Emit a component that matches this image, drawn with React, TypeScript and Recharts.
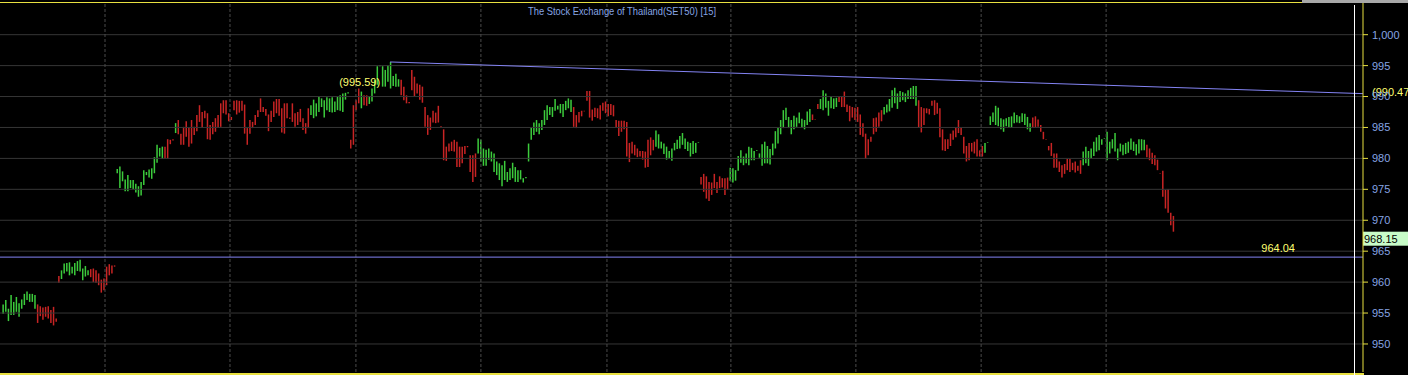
import React from 'react';
import { ComposedChart, Bar, XAxis, YAxis, ReferenceLine, ReferenceDot, Cell } from 'recharts';

// ---- data (15-minute bars, high / low) ----
const highs: number[] = [
  // session A
  956.4, 957.1, 955.7, 957.9, 956.8, 957.6, 956.6, 957.2, 958.1, 958.5, 958.1, 958.1, 957.9, 956.4, 956.1, 955.9, 956.0, 956.1, 955.5, 956.0, 954.1,
  961.0, 961.9, 963.0, 963.1, 963.2, 962.5, 963.1, 963.4, 963.6, 962.2, 962.6, 961.9, 962.1, 962.2, 961.9, 961.4, 960.4, 960.6, 962.5, 962.9, 962.7, 962.7,
  // B
  978.3, 978.7, 977.9, 976.6, 977.3, 976.5, 976.5, 975.9, 975.5, 976.2, 978.1, 977.8, 978.2, 978.4, 980.2, 982.2, 981.7, 981.9,
  981.9, 983.1, 983.0, 983.1, 985.7,
  986.2, 984.0, 985.1, 986.0, 984.9, 986.2, 985.1, 987.0, 988.6, 987.5, 987.7, 987.3, 985.4, 985.9, 986.5, 987.0, 988.9, 989.4, 989.4, 987.3, 986.7, 989.3, 989.4, 989.3, 989.3, 988.7,
  984.9, 986.2, 985.9, 987.0, 987.8, 989.7, 988.3, 988.0, 987.1, 987.7, 989.2, 989.6, 989.6, 988.1, 988.9, 988.9, 986.6, 988.9, 987.3, 987.5, 988.0, 986.5, 985.7, 988.1,
  // C
  988.6, 989.5, 988.9, 990.1, 989.7, 989.4, 989.9, 989.7, 989.9, 989.2, 990.0, 990.2, 990.5, 990.6, 990.7,
  983.0, 988.6, 989.4, 991.3, 990.8, 990.2, 990.2, 990.0, 991.3, 992.7, 994.9, 995.1, 994.9, 994.3, 995.1, 995.59, 993.3, 993.7, 992.8,
  992.7, 991.6, 990.2, 989.1, 994.3, 993.2, 992.1, 991.9, 991.6, 988.3, 987.0, 986.6, 987.7, 987.4, 988.5, 985.2, 984.7, 981.9, 982.4, 982.7, 983.0, 982.7, 981.9, 981.9, 982.0, 982.0, 980.5, 980.5, 980.8,
  983.2, 983.0, 981.6, 981.4, 981.6, 981.1, 980.8, 979.5, 979.2, 978.9, 979.6, 977.8, 978.4, 979.3, 978.6, 978.1, 978.1, 976.8, 977.0, 982.4, 984.9, 985.8, 986.2, 985.7, 986.2, 987.8, 988.6, 988.3,
  // D
  988.3, 989.6, 988.5, 988.8, 988.8, 989.3, 989.7, 989.5,
  988.3, 987.0, 987.5, 987.7, 987.7, 990.9, 990.9, 987.9, 988.2, 988.1, 988.6, 989.0, 989.2, 988.8, 988.8, 988.6, 986.2, 986.1, 986.1, 986.1, 985.9, 982.5, 982.7, 982.2, 981.6, 981.2, 981.2, 981.1, 983.0, 983.4, 983.0,
  984.5, 983.9, 982.7, 982.4, 981.9, 981.2, 981.6, 982.5, 983.0, 983.6, 984.1, 983.2, 982.7, 982.5, 982.8, 982.5, 982.6,
  977.0, 977.5, 977.1, 976.2, 976.1, 977.5, 976.2, 977.1, 976.8, 976.8, 976.9,
  978.5, 978.4, 978.1, 980.4, 981.3,
  // E
  980.3, 980.8, 981.9, 981.7, 981.2, 981.3, 980.8, 982.3, 982.7, 982.0, 981.5, 982.4, 984.4, 984.9, 986.2, 987.8, 988.2, 986.7, 986.2, 986.9, 986.6, 987.4, 986.4, 986.2, 987.6, 988.0,
  987.1, 986.3, 988.8,
  989.6, 991.0, 990.5, 989.3, 990.1, 989.7, 989.8,
  990.1, 990.0, 990.8, 988.7, 988.5, 988.3, 988.2, 988.3, 987.1, 985.7, 984.0, 983.1, 983.5, 986.5, 986.6, 987.4, 987.8,
  988.3, 988.7, 989.6, 991.0, 991.4, 990.5, 990.9, 990.7, 990.5, 991.0, 991.4, 991.7, 991.7,
  989.4, 988.3, 988.1, 988.1, 988.0,
  // F
  989.3, 989.4, 989.0, 988.1, 984.7, 983.1, 983.1, 984.0, 984.5, 985.0, 986.2, 984.9, 983.5, 982.0, 982.5, 982.5, 982.7, 983.1, 981.3, 982.0,
  982.5, 982.6,
  986.8, 987.4, 988.5, 988.2, 986.5, 986.3, 986.5, 986.7, 986.8, 987.4, 987.0, 986.8, 987.3, 987.2, 986.7, 985.7,
  986.6, 986.8, 986.3, 985.4, 984.3, 983.1, 982.0, 982.5, 980.8, 980.8, 979.5, 978.9, 979.1, 979.9, 979.9, 979.3, 979.5, 978.8, 979.7,
  981.1, 981.9, 981.2, 981.6, 982.7, 983.4, 983.8, 983.1, 983.3, 984.3, 982.7, 983.1, 984.1, 981.6,
  // G
  982.4, 982.2, 982.5, 982.7, 983.2, 982.7, 982.3, 983.1, 983.1, 983.0,
  982.2, 981.6, 980.9, 980.5, 979.8, 977.6, 978.0, 974.9, 975.0, 971.2, 970.7,
];

const lows: number[] = [
  // A
  954.9, 955.2, 953.7, 954.7, 954.7, 955.2, 954.4, 955.7, 956.3, 957.1, 956.8, 956.8, 955.7, 953.4, 954.5, 953.9, 954.4, 954.1, 953.4, 953.0, 953.6,
  959.9, 960.5, 961.4, 961.7, 961.1, 961.4, 961.1, 961.8, 961.7, 960.3, 960.9, 961.1, 960.8, 960.0, 959.9, 959.5, 958.3, 958.7, 959.5, 961.1, 961.4, 962.5,
  // B
  977.6, 975.2, 976.3, 974.7, 974.7, 975.2, 975.0, 974.5, 973.8, 974.0, 975.7, 977.3, 976.9, 976.7, 977.6, 979.3, 980.3, 979.9,
  979.9, 979.9, 982.3, 982.9, 984.1,
  983.9, 982.2, 982.2, 983.5, 981.9, 982.4, 983.8, 984.4, 985.9, 984.9, 986.5, 983.1, 983.0, 983.9, 984.3, 984.9, 985.1, 987.3, 987.1, 986.0, 986.2, 987.8, 987.1, 987.4, 987.7, 984.0,
  982.2, 984.0, 984.9, 985.4, 986.7, 987.5, 987.5, 986.9, 984.4, 985.9, 986.7, 987.3, 986.9, 984.2, 984.0, 986.5, 986.4, 985.9, 985.1, 985.4, 985.9, 984.6, 984.0, 984.9,
  // C
  987.0, 986.5, 986.8, 987.5, 988.3, 986.6, 987.8, 987.5, 987.4, 987.5, 987.8, 987.7, 987.5, 989.5, 990.5,
  981.6, 982.2, 987.8, 988.9, 988.1, 988.6, 988.5, 988.8, 989.2, 990.5, 991.9, 994.9, 991.6, 991.6, 992.4, 991.3, 991.7, 991.6, 991.6,
  990.2, 989.4, 988.9, 988.9, 991.0, 990.0, 990.5, 989.5, 989.0, 985.1, 983.8, 984.6, 985.8, 985.7, 985.8, 985.0, 979.7, 979.6, 981.1, 981.2, 981.1, 978.6, 978.6, 979.2, 980.7, 981.8, 977.8, 976.2, 977.0,
  980.8, 979.5, 978.8, 978.8, 979.8, 979.5, 977.8, 977.3, 976.5, 975.5, 976.5, 976.2, 976.5, 976.8, 976.2, 976.2, 976.6, 976.1, 976.8, 979.5, 983.0, 983.8, 984.3, 983.9, 984.6, 985.4, 986.2, 987.0,
  // D
  986.7, 987.7, 987.9, 987.3, 986.7, 987.8, 988.1, 987.5,
  985.1, 984.9, 985.8, 986.8, 987.6, 989.3, 986.6, 986.1, 986.7, 986.5, 986.3, 987.7, 987.3, 986.8, 987.0, 986.8, 985.0, 983.6, 984.3, 984.7, 980.3, 979.4, 980.8, 980.5, 980.2, 980.3, 979.8, 978.5, 978.6, 980.5, 981.3,
  981.9, 981.6, 981.6, 980.7, 979.8, 980.0, 979.6, 981.3, 981.5, 981.6, 982.2, 981.5, 981.2, 980.3, 980.7, 980.9, 982.5,
  975.8, 974.6, 973.5, 973.1, 974.1, 975.2, 974.4, 975.2, 975.3, 974.1, 974.9,
  976.4, 976.1, 976.4, 978.0, 979.3,
  // E
  978.9, 979.2, 978.9, 979.7, 979.7, 981.2, 980.1, 978.8, 979.2, 979.2, 979.0, 980.5, 981.6, 982.4, 983.9, 984.9, 986.2, 984.9, 983.9, 984.7, 985.1, 985.7, 984.9, 984.7, 985.4, 985.9,
  986.2, 986.2, 988.0,
  988.0, 987.8, 988.2, 986.9, 988.1, 988.0, 988.3,
  989.1, 988.3, 988.3, 987.5, 986.0, 986.6, 986.2, 985.9, 983.8, 983.5, 979.9, 980.5, 982.7, 983.9, 984.3, 985.1, 986.0,
  987.1, 987.4, 987.6, 988.2, 988.9, 988.0, 989.1, 989.4, 989.1, 989.6, 989.6, 989.6, 988.5,
  985.0, 984.2, 985.4, 987.3, 987.1,
  // F
  988.5, 987.0, 987.2, 983.4, 981.3, 981.2, 981.5, 982.0, 983.0, 983.4, 984.1, 983.8, 980.8, 979.5, 979.7, 981.1, 980.8, 980.3, 980.3, 980.3,
  980.9, 982.5,
  985.4, 985.9, 985.4, 985.2, 984.7, 984.3, 985.2, 985.0, 985.0, 985.7, 985.8, 985.7, 985.9, 985.4, 984.7, 984.3,
  984.9, 985.0, 985.1, 984.3, 983.1, 983.0, 981.3, 980.4, 978.5, 978.5, 977.8, 976.9, 977.5, 978.1, 977.8, 978.1, 977.7, 978.0, 977.5,
  978.9, 979.2, 978.8, 980.0, 980.4, 981.1, 981.3, 982.2, 983.2, 979.7, 980.8, 981.6, 981.1, 979.7,
  // G
  981.1, 980.5, 980.7, 980.9, 981.4, 981.2, 980.5, 980.8, 981.3, 981.3,
  980.2, 979.7, 979.1, 978.9, 978.1, 977.5, 973.8, 971.9, 971.2, 969.2, 968.15,
];

// u = up bar (green), d = down bar (red)
const barDirs: string = [
  'uuuuu uuuuu uuu ddddd dddd uuuuu uuuuu u ddddd ddddd',
  'uuuuu uuuuu uuuuu uuu dddd u ddddd ddddd ddddd ddddd ddddd ddddd ddddd ddddd ddddd ddddd',
  'uuuuu uuuuu uuuuu dddd u dd uuuuu uuuuu uu ddddd ddddd ddddd ddddd ddddd dddd uuuuu uuuuu uuuuu uuuuu uuuuu uuu',
  'uuuuu uuu ddddd ddddd ddddd ddddd ddddd ddddd d uuuuu uuuuu uuuuu uu ddddd ddddd d uuuuu',
  'uuuuu uuuuu uuuuu uuuuu uuuuu u ddd uuuuu uu ddddd ddddd ddddd dd uuuuu uuuuu uuu ddddd',
  'ddddd ddddd ddddd ddddd uuuuu uuuuu uuuuu uuu ddddd ddddd ddddd dddd uuuuu uuuuu uuuu',
  'uuuuu uuuuu ddddd ddddd d',
].join(' ').replace(/\s+/g, '');

const priceTicks = [950, 955, 960, 965, 970, 975, 980, 985, 990, 995, 1000];
const timeGridTicks = [38.55, 85.65, 133.1, 180.2, 227.7, 274.4, 321.5, 368.7, 415.8];
const supportLevel = 964.04;
const trendEndValue = 990.47;
const chartTitle = 'The Stock Exchange of Thailand(SET50) [15]';

const X_DOMAIN: [number, number] = [-1.02, 512.6];
const Y_DOMAIN: [number, number] = [945.47, 1005.12];

const YEL = '#e8e040';
const LBL_YEL = '#ffff70';
const AXIS_TEXT = '#86a4e4';
const BLUE = '#8484f4';
const GREEN = '#3ccc3c';
const RED = '#c82424';
const FONT = "'Liberation Sans', Arial, sans-serif";

const data = highs.map((h, i) => ({
  t: i,
  range: [lows[i] ?? h, h] as [number, number],
  up: barDirs[i] === 'u',
}));

let peakIdx = 0;
highs.forEach((h, i) => {
  if (h > highs[peakIdx]) peakIdx = i;
});
const peakHigh = highs[peakIdx];
const lastClose = lows[lows.length - 1];

const PeakLabel = (props: any) => {
  const vb = props.viewBox || {};
  const cx = (vb.x ?? 0) + (vb.width ?? 0) / 2;
  const cy = (vb.y ?? 0) + (vb.height ?? 0) / 2;
  return (
    <text x={cx - 10} y={cy + 24} fill={LBL_YEL} fontSize={11} fontFamily={FONT} textAnchor="end">
      {`(${peakHigh.toFixed(2)})`}
    </text>
  );
};

const TrendEndLabel = (props: any) => {
  const vb = props.viewBox || {};
  const cx = (vb.x ?? 0) + (vb.width ?? 0) / 2;
  const cy = (vb.y ?? 0) + (vb.height ?? 0) / 2;
  return (
    <text x={cx + 9} y={cy + 2} fill={LBL_YEL} fontSize={11} fontFamily={FONT} textAnchor="start">
      {`(${trendEndValue.toFixed(2)}`}
    </text>
  );
};

const SupportLabel = (props: any) => {
  const vb = props.viewBox || {};
  const right = (vb.x ?? 0) + (vb.width ?? 0);
  return (
    <text x={right - 68} y={(vb.y ?? 0) - 5} fill={LBL_YEL} fontSize={11} fontFamily={FONT} textAnchor="end">
      {supportLevel.toFixed(2)}
    </text>
  );
};

const LastLabel = (props: any) => {
  const vb = props.viewBox || {};
  const right = (vb.x ?? 0) + (vb.width ?? 0);
  const y = vb.y ?? 0;
  return (
    <g>
      <rect x={right} y={y} width={45} height={14} fill="#c8fcc8" />
      <text x={right + 1} y={y + 11} fill="#000" fontSize={11} fontFamily={FONT}>
        {lastClose.toFixed(2)}
      </text>
    </g>
  );
};

export default function App() {
  return (
    <div style={{ position: 'absolute', left: 0, top: 0, width: 1408, height: 375, background: '#000', overflow: 'hidden' }}>
      <ComposedChart width={1408} height={375} data={data} margin={{ top: 3, right: 0, bottom: 3, left: 0 }}>
        <XAxis type="number" dataKey="t" domain={X_DOMAIN} hide allowDataOverflow />
        <YAxis
          orientation="right"
          type="number"
          domain={Y_DOMAIN}
          ticks={priceTicks}
          interval={0}
          width={45}
          stroke={YEL}
          tickSize={5}
          tickMargin={4}
          allowDataOverflow
          tick={{ fill: AXIS_TEXT, fontSize: 11, fontFamily: FONT }}
          tickFormatter={(v: number) => v.toLocaleString('en-US')}
        />
        {priceTicks.map((v) => (
          <ReferenceLine key={'h' + v} y={v} stroke="#363636" strokeWidth={1} />
        ))}
        {timeGridTicks.map((t) => (
          <ReferenceLine key={'v' + t} x={t} stroke="#4a4a4a" strokeDasharray="3 2" />
        ))}
        <Bar dataKey="range" barSize={1.5} isAnimationActive={false}>
          {data.map((d, k) => (
            <Cell key={k} fill={d.up ? GREEN : RED} />
          ))}
        </Bar>
        <ReferenceLine y={supportLevel} stroke={BLUE} label={<SupportLabel />} />
        <ReferenceLine
          segment={[
            { x: peakIdx, y: peakHigh },
            { x: X_DOMAIN[1], y: trendEndValue },
          ]}
          stroke={BLUE}
        />
        <ReferenceDot x={peakIdx} y={peakHigh} r={1} fill="none" stroke="none" label={<PeakLabel />} />
        <ReferenceDot x={X_DOMAIN[1]} y={trendEndValue} r={1} fill="none" stroke="none" ifOverflow="visible" label={<TrendEndLabel />} />
        <ReferenceLine y={lastClose} stroke="none" label={<LastLabel />} />
      </ComposedChart>
      {/* frame decorations */}
      <div style={{ position: 'absolute', left: 0, top: 2, width: 1302, height: 1, background: YEL }} />
      <div style={{ position: 'absolute', left: 1302, top: 0, width: 106, height: 3, background: '#a8a8a8' }} />
      <div style={{ position: 'absolute', left: 0, top: 373, width: 1364, height: 2, background: YEL }} />
      <div style={{ position: 'absolute', left: 1354, top: 5, width: 1, height: 370, background: '#ffffff' }} />
      <svg style={{ position: 'absolute', left: 0, top: 0 }} width={1408} height={20}>
        <text x={528} y={15} fill={AXIS_TEXT} fontSize={11} fontFamily={FONT} textLength={188} lengthAdjust="spacingAndGlyphs">
          {chartTitle}
        </text>
      </svg>
    </div>
  );
}
